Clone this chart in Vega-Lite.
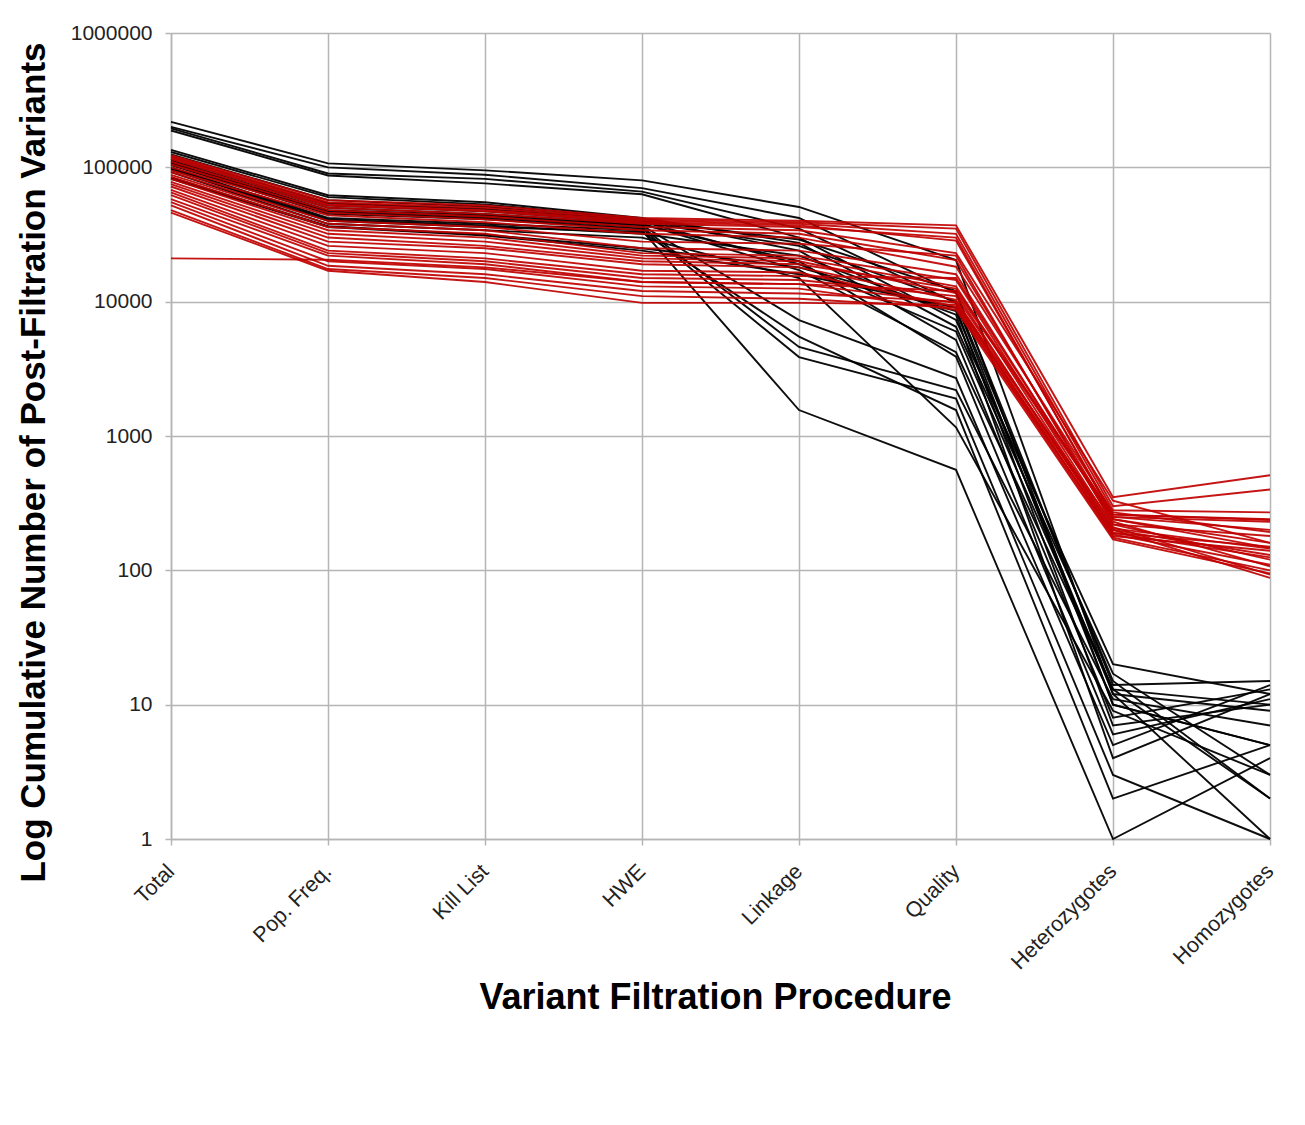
{
  "$schema": "https://vega.github.io/schema/vega-lite/v6.json",
  "width": 1099,
  "height": 806,
  "autosize": {"type": "none"},
  "padding": {"left": 171, "top": 33, "right": 35, "bottom": 286},
  "background": "white",
  "config": {
    "font": "Liberation Sans",
    "view": {"stroke": null},
    "axis": {
      "grid": true,
      "gridColor": "#b5b5b5",
      "gridWidth": 1.5,
      "domainColor": "#b5b5b5",
      "domainWidth": 1.5,
      "tickColor": "#b5b5b5",
      "tickWidth": 1.5,
      "tickSize": 6,
      "labelFont": "Liberation Sans",
      "labelFontSize": 21,
      "labelColor": "#222222",
      "labelFlush": false,
      "labelOverlap": false,
      "titleFont": "Liberation Sans",
      "titleFontWeight": "bold",
      "titleColor": "#000000"
    }
  },
  "data": {
    "values": [
      {"s":"B1","g":"b","x":"Total","v":218000},{"s":"B1","g":"b","x":"Pop. Freq.","v":107000},{"s":"B1","g":"b","x":"Kill List","v":95000},{"s":"B1","g":"b","x":"HWE","v":80000},{"s":"B1","g":"b","x":"Linkage","v":50700},{"s":"B1","g":"b","x":"Quality","v":20400},{"s":"B1","g":"b","x":"Heterozygotes","v":12},{"s":"B1","g":"b","x":"Homozygotes","v":9},
      {"s":"B2","g":"b","x":"Total","v":200000},{"s":"B2","g":"b","x":"Pop. Freq.","v":100000},{"s":"B2","g":"b","x":"Kill List","v":88000},{"s":"B2","g":"b","x":"HWE","v":70000},{"s":"B2","g":"b","x":"Linkage","v":42000},{"s":"B2","g":"b","x":"Quality","v":11600},{"s":"B2","g":"b","x":"Heterozygotes","v":14},{"s":"B2","g":"b","x":"Homozygotes","v":15},
      {"s":"B3","g":"b","x":"Total","v":195000},{"s":"B3","g":"b","x":"Pop. Freq.","v":90000},{"s":"B3","g":"b","x":"Kill List","v":82000},{"s":"B3","g":"b","x":"HWE","v":66000},{"s":"B3","g":"b","x":"Linkage","v":35000},{"s":"B3","g":"b","x":"Quality","v":9800},{"s":"B3","g":"b","x":"Heterozygotes","v":10},{"s":"B3","g":"b","x":"Homozygotes","v":5},
      {"s":"B4","g":"b","x":"Total","v":188000},{"s":"B4","g":"b","x":"Pop. Freq.","v":87000},{"s":"B4","g":"b","x":"Kill List","v":76000},{"s":"B4","g":"b","x":"HWE","v":63000},{"s":"B4","g":"b","x":"Linkage","v":30000},{"s":"B4","g":"b","x":"Quality","v":7300},{"s":"B4","g":"b","x":"Heterozygotes","v":20},{"s":"B4","g":"b","x":"Homozygotes","v":12},
      {"s":"B5","g":"b","x":"Total","v":135000},{"s":"B5","g":"b","x":"Pop. Freq.","v":62000},{"s":"B5","g":"b","x":"Kill List","v":55000},{"s":"B5","g":"b","x":"HWE","v":42000},{"s":"B5","g":"b","x":"Linkage","v":27400},{"s":"B5","g":"b","x":"Quality","v":6500},{"s":"B5","g":"b","x":"Heterozygotes","v":17},{"s":"B5","g":"b","x":"Homozygotes","v":3},
      {"s":"B6","g":"b","x":"Total","v":130000},{"s":"B6","g":"b","x":"Pop. Freq.","v":60000},{"s":"B6","g":"b","x":"Kill List","v":53000},{"s":"B6","g":"b","x":"HWE","v":41000},{"s":"B6","g":"b","x":"Linkage","v":24000},{"s":"B6","g":"b","x":"Quality","v":5200},{"s":"B6","g":"b","x":"Heterozygotes","v":8},{"s":"B6","g":"b","x":"Homozygotes","v":13},
      {"s":"B7","g":"b","x":"Total","v":112000},{"s":"B7","g":"b","x":"Pop. Freq.","v":50000},{"s":"B7","g":"b","x":"Kill List","v":45000},{"s":"B7","g":"b","x":"HWE","v":38000},{"s":"B7","g":"b","x":"Linkage","v":17200},{"s":"B7","g":"b","x":"Quality","v":4200},{"s":"B7","g":"b","x":"Heterozygotes","v":13},{"s":"B7","g":"b","x":"Homozygotes","v":2},
      {"s":"B8","g":"b","x":"Total","v":110000},{"s":"B8","g":"b","x":"Pop. Freq.","v":48000},{"s":"B8","g":"b","x":"Kill List","v":44000},{"s":"B8","g":"b","x":"HWE","v":37500},{"s":"B8","g":"b","x":"Linkage","v":20000},{"s":"B8","g":"b","x":"Quality","v":3900},{"s":"B8","g":"b","x":"Heterozygotes","v":6},{"s":"B8","g":"b","x":"Homozygotes","v":11},
      {"s":"B9","g":"b","x":"Total","v":108000},{"s":"B9","g":"b","x":"Pop. Freq.","v":47000},{"s":"B9","g":"b","x":"Kill List","v":43000},{"s":"B9","g":"b","x":"HWE","v":37000},{"s":"B9","g":"b","x":"Linkage","v":7300},{"s":"B9","g":"b","x":"Quality","v":2700},{"s":"B9","g":"b","x":"Heterozygotes","v":5},{"s":"B9","g":"b","x":"Homozygotes","v":14},
      {"s":"B10","g":"b","x":"Total","v":106000},{"s":"B10","g":"b","x":"Pop. Freq.","v":46000},{"s":"B10","g":"b","x":"Kill List","v":42000},{"s":"B10","g":"b","x":"HWE","v":36000},{"s":"B10","g":"b","x":"Linkage","v":4600},{"s":"B10","g":"b","x":"Quality","v":2200},{"s":"B10","g":"b","x":"Heterozygotes","v":11},{"s":"B10","g":"b","x":"Homozygotes","v":7},
      {"s":"B11","g":"b","x":"Total","v":104000},{"s":"B11","g":"b","x":"Pop. Freq.","v":45000},{"s":"B11","g":"b","x":"Kill List","v":41000},{"s":"B11","g":"b","x":"HWE","v":35000},{"s":"B11","g":"b","x":"Linkage","v":3870},{"s":"B11","g":"b","x":"Quality","v":1900},{"s":"B11","g":"b","x":"Heterozygotes","v":3},{"s":"B11","g":"b","x":"Homozygotes","v":1},
      {"s":"B12","g":"b","x":"Total","v":100000},{"s":"B12","g":"b","x":"Pop. Freq.","v":42000},{"s":"B12","g":"b","x":"Kill List","v":38000},{"s":"B12","g":"b","x":"HWE","v":34000},{"s":"B12","g":"b","x":"Linkage","v":1560},{"s":"B12","g":"b","x":"Quality","v":560},{"s":"B12","g":"b","x":"Heterozygotes","v":1},{"s":"B12","g":"b","x":"Homozygotes","v":4},
      {"s":"B13","g":"b","x":"Total","v":96000},{"s":"B13","g":"b","x":"Pop. Freq.","v":40000},{"s":"B13","g":"b","x":"Kill List","v":36000},{"s":"B13","g":"b","x":"HWE","v":33000},{"s":"B13","g":"b","x":"Linkage","v":5500},{"s":"B13","g":"b","x":"Quality","v":1560},{"s":"B13","g":"b","x":"Heterozygotes","v":2},{"s":"B13","g":"b","x":"Homozygotes","v":5},
      {"s":"B14","g":"b","x":"Total","v":92000},{"s":"B14","g":"b","x":"Pop. Freq.","v":38000},{"s":"B14","g":"b","x":"Kill List","v":34000},{"s":"B14","g":"b","x":"HWE","v":30000},{"s":"B14","g":"b","x":"Linkage","v":15000},{"s":"B14","g":"b","x":"Quality","v":1160},{"s":"B14","g":"b","x":"Heterozygotes","v":9},{"s":"B14","g":"b","x":"Homozygotes","v":3},
      {"s":"B15","g":"b","x":"Total","v":84000},{"s":"B15","g":"b","x":"Pop. Freq.","v":36500},{"s":"B15","g":"b","x":"Kill List","v":31500},{"s":"B15","g":"b","x":"HWE","v":25000},{"s":"B15","g":"b","x":"Linkage","v":18000},{"s":"B15","g":"b","x":"Quality","v":8500},{"s":"B15","g":"b","x":"Heterozygotes","v":12},{"s":"B15","g":"b","x":"Homozygotes","v":1},
      {"s":"B16","g":"b","x":"Total","v":82000},{"s":"B16","g":"b","x":"Pop. Freq.","v":36000},{"s":"B16","g":"b","x":"Kill List","v":31000},{"s":"B16","g":"b","x":"HWE","v":24000},{"s":"B16","g":"b","x":"Linkage","v":16000},{"s":"B16","g":"b","x":"Quality","v":9000},{"s":"B16","g":"b","x":"Heterozygotes","v":7},{"s":"B16","g":"b","x":"Homozygotes","v":10},
      {"s":"B17","g":"b","x":"Total","v":115000},{"s":"B17","g":"b","x":"Pop. Freq.","v":52000},{"s":"B17","g":"b","x":"Kill List","v":47000},{"s":"B17","g":"b","x":"HWE","v":39000},{"s":"B17","g":"b","x":"Linkage","v":26000},{"s":"B17","g":"b","x":"Quality","v":10000},{"s":"B17","g":"b","x":"Heterozygotes","v":15},{"s":"B17","g":"b","x":"Homozygotes","v":2},
      {"s":"B18","g":"b","x":"Total","v":98000},{"s":"B18","g":"b","x":"Pop. Freq.","v":41000},{"s":"B18","g":"b","x":"Kill List","v":37000},{"s":"B18","g":"b","x":"HWE","v":32000},{"s":"B18","g":"b","x":"Linkage","v":22000},{"s":"B18","g":"b","x":"Quality","v":8000},{"s":"B18","g":"b","x":"Heterozygotes","v":4},{"s":"B18","g":"b","x":"Homozygotes","v":12},
      {"s":"B19","g":"b","x":"Total","v":125000},{"s":"B19","g":"b","x":"Pop. Freq.","v":57000},{"s":"B19","g":"b","x":"Kill List","v":51000},{"s":"B19","g":"b","x":"HWE","v":40000},{"s":"B19","g":"b","x":"Linkage","v":29000},{"s":"B19","g":"b","x":"Quality","v":12000},{"s":"B19","g":"b","x":"Heterozygotes","v":10},{"s":"B19","g":"b","x":"Homozygotes","v":5},
      {"s":"B20","g":"b","x":"Total","v":120000},{"s":"B20","g":"b","x":"Pop. Freq.","v":54000},{"s":"B20","g":"b","x":"Kill List","v":49000},{"s":"B20","g":"b","x":"HWE","v":39500},{"s":"B20","g":"b","x":"Linkage","v":19000},{"s":"B20","g":"b","x":"Quality","v":6000},{"s":"B20","g":"b","x":"Heterozygotes","v":13},{"s":"B20","g":"b","x":"Homozygotes","v":10},
      {"s":"R1","g":"r","x":"Total","v":123000},{"s":"R1","g":"r","x":"Pop. Freq.","v":57000},{"s":"R1","g":"r","x":"Kill List","v":52000},{"s":"R1","g":"r","x":"HWE","v":42000},{"s":"R1","g":"r","x":"Linkage","v":40000},{"s":"R1","g":"r","x":"Quality","v":37000},{"s":"R1","g":"r","x":"Heterozygotes","v":350},{"s":"R1","g":"r","x":"Homozygotes","v":510},
      {"s":"R2","g":"r","x":"Total","v":120000},{"s":"R2","g":"r","x":"Pop. Freq.","v":55000},{"s":"R2","g":"r","x":"Kill List","v":50000},{"s":"R2","g":"r","x":"HWE","v":41000},{"s":"R2","g":"r","x":"Linkage","v":39000},{"s":"R2","g":"r","x":"Quality","v":35000},{"s":"R2","g":"r","x":"Heterozygotes","v":300},{"s":"R2","g":"r","x":"Homozygotes","v":400},
      {"s":"R3","g":"r","x":"Total","v":118000},{"s":"R3","g":"r","x":"Pop. Freq.","v":53000},{"s":"R3","g":"r","x":"Kill List","v":48000},{"s":"R3","g":"r","x":"HWE","v":40000},{"s":"R3","g":"r","x":"Linkage","v":38000},{"s":"R3","g":"r","x":"Quality","v":32000},{"s":"R3","g":"r","x":"Heterozygotes","v":280},{"s":"R3","g":"r","x":"Homozygotes","v":270},
      {"s":"R4","g":"r","x":"Total","v":115000},{"s":"R4","g":"r","x":"Pop. Freq.","v":52000},{"s":"R4","g":"r","x":"Kill List","v":47000},{"s":"R4","g":"r","x":"HWE","v":39000},{"s":"R4","g":"r","x":"Linkage","v":37000},{"s":"R4","g":"r","x":"Quality","v":28500},{"s":"R4","g":"r","x":"Heterozygotes","v":260},{"s":"R4","g":"r","x":"Homozygotes","v":240},
      {"s":"R5","g":"r","x":"Total","v":110000},{"s":"R5","g":"r","x":"Pop. Freq.","v":50000},{"s":"R5","g":"r","x":"Kill List","v":45000},{"s":"R5","g":"r","x":"HWE","v":38000},{"s":"R5","g":"r","x":"Linkage","v":36000},{"s":"R5","g":"r","x":"Quality","v":30000},{"s":"R5","g":"r","x":"Heterozygotes","v":250},{"s":"R5","g":"r","x":"Homozygotes","v":230},
      {"s":"R6","g":"r","x":"Total","v":105000},{"s":"R6","g":"r","x":"Pop. Freq.","v":48000},{"s":"R6","g":"r","x":"Kill List","v":43000},{"s":"R6","g":"r","x":"HWE","v":36000},{"s":"R6","g":"r","x":"Linkage","v":34000},{"s":"R6","g":"r","x":"Quality","v":23000},{"s":"R6","g":"r","x":"Heterozygotes","v":330},{"s":"R6","g":"r","x":"Homozygotes","v":160},
      {"s":"R7","g":"r","x":"Total","v":100000},{"s":"R7","g":"r","x":"Pop. Freq.","v":46000},{"s":"R7","g":"r","x":"Kill List","v":41000},{"s":"R7","g":"r","x":"HWE","v":34000},{"s":"R7","g":"r","x":"Linkage","v":32000},{"s":"R7","g":"r","x":"Quality","v":20400},{"s":"R7","g":"r","x":"Heterozygotes","v":240},{"s":"R7","g":"r","x":"Homozygotes","v":147},
      {"s":"R8","g":"r","x":"Total","v":95000},{"s":"R8","g":"r","x":"Pop. Freq.","v":44000},{"s":"R8","g":"r","x":"Kill List","v":39000},{"s":"R8","g":"r","x":"HWE","v":32000},{"s":"R8","g":"r","x":"Linkage","v":30000},{"s":"R8","g":"r","x":"Quality","v":18200},{"s":"R8","g":"r","x":"Heterozygotes","v":270},{"s":"R8","g":"r","x":"Homozygotes","v":193},
      {"s":"R9","g":"r","x":"Total","v":92000},{"s":"R9","g":"r","x":"Pop. Freq.","v":40000},{"s":"R9","g":"r","x":"Kill List","v":36000},{"s":"R9","g":"r","x":"HWE","v":28000},{"s":"R9","g":"r","x":"Linkage","v":27000},{"s":"R9","g":"r","x":"Quality","v":22000},{"s":"R9","g":"r","x":"Heterozygotes","v":220},{"s":"R9","g":"r","x":"Homozygotes","v":120},
      {"s":"R10","g":"r","x":"Total","v":88000},{"s":"R10","g":"r","x":"Pop. Freq.","v":38000},{"s":"R10","g":"r","x":"Kill List","v":34000},{"s":"R10","g":"r","x":"HWE","v":25000},{"s":"R10","g":"r","x":"Linkage","v":24000},{"s":"R10","g":"r","x":"Quality","v":16000},{"s":"R10","g":"r","x":"Heterozygotes","v":230},{"s":"R10","g":"r","x":"Homozygotes","v":107},
      {"s":"R11","g":"r","x":"Total","v":85000},{"s":"R11","g":"r","x":"Pop. Freq.","v":36000},{"s":"R11","g":"r","x":"Kill List","v":32000},{"s":"R11","g":"r","x":"HWE","v":23000},{"s":"R11","g":"r","x":"Linkage","v":22000},{"s":"R11","g":"r","x":"Quality","v":14500},{"s":"R11","g":"r","x":"Heterozygotes","v":210},{"s":"R11","g":"r","x":"Homozygotes","v":93},
      {"s":"R12","g":"r","x":"Total","v":82000},{"s":"R12","g":"r","x":"Pop. Freq.","v":34000},{"s":"R12","g":"r","x":"Kill List","v":30000},{"s":"R12","g":"r","x":"HWE","v":22000},{"s":"R12","g":"r","x":"Linkage","v":21000},{"s":"R12","g":"r","x":"Quality","v":13000},{"s":"R12","g":"r","x":"Heterozygotes","v":200},{"s":"R12","g":"r","x":"Homozygotes","v":88},
      {"s":"R13","g":"r","x":"Total","v":78000},{"s":"R13","g":"r","x":"Pop. Freq.","v":32000},{"s":"R13","g":"r","x":"Kill List","v":28000},{"s":"R13","g":"r","x":"HWE","v":21000},{"s":"R13","g":"r","x":"Linkage","v":20000},{"s":"R13","g":"r","x":"Quality","v":11600},{"s":"R13","g":"r","x":"Heterozygotes","v":190},{"s":"R13","g":"r","x":"Homozygotes","v":150},
      {"s":"R14","g":"r","x":"Total","v":75000},{"s":"R14","g":"r","x":"Pop. Freq.","v":30000},{"s":"R14","g":"r","x":"Kill List","v":26000},{"s":"R14","g":"r","x":"HWE","v":20000},{"s":"R14","g":"r","x":"Linkage","v":19000},{"s":"R14","g":"r","x":"Quality","v":12500},{"s":"R14","g":"r","x":"Heterozygotes","v":260},{"s":"R14","g":"r","x":"Homozygotes","v":237},
      {"s":"R15","g":"r","x":"Total","v":72000},{"s":"R15","g":"r","x":"Pop. Freq.","v":28000},{"s":"R15","g":"r","x":"Kill List","v":25000},{"s":"R15","g":"r","x":"HWE","v":19000},{"s":"R15","g":"r","x":"Linkage","v":18000},{"s":"R15","g":"r","x":"Quality","v":10300},{"s":"R15","g":"r","x":"Heterozygotes","v":180},{"s":"R15","g":"r","x":"Homozygotes","v":140},
      {"s":"R16","g":"r","x":"Total","v":68000},{"s":"R16","g":"r","x":"Pop. Freq.","v":26000},{"s":"R16","g":"r","x":"Kill List","v":23000},{"s":"R16","g":"r","x":"HWE","v":17000},{"s":"R16","g":"r","x":"Linkage","v":16500},{"s":"R16","g":"r","x":"Quality","v":9200},{"s":"R16","g":"r","x":"Heterozygotes","v":175},{"s":"R16","g":"r","x":"Homozygotes","v":100},
      {"s":"R17","g":"r","x":"Total","v":65000},{"s":"R17","g":"r","x":"Pop. Freq.","v":24000},{"s":"R17","g":"r","x":"Kill List","v":21000},{"s":"R17","g":"r","x":"HWE","v":16000},{"s":"R17","g":"r","x":"Linkage","v":15500},{"s":"R17","g":"r","x":"Quality","v":15000},{"s":"R17","g":"r","x":"Heterozygotes","v":240},{"s":"R17","g":"r","x":"Homozygotes","v":160},
      {"s":"R18","g":"r","x":"Total","v":62000},{"s":"R18","g":"r","x":"Pop. Freq.","v":23000},{"s":"R18","g":"r","x":"Kill List","v":20000},{"s":"R18","g":"r","x":"HWE","v":15000},{"s":"R18","g":"r","x":"Linkage","v":14500},{"s":"R18","g":"r","x":"Quality","v":11000},{"s":"R18","g":"r","x":"Heterozygotes","v":200},{"s":"R18","g":"r","x":"Homozygotes","v":130},
      {"s":"R19","g":"r","x":"Total","v":58000},{"s":"R19","g":"r","x":"Pop. Freq.","v":22000},{"s":"R19","g":"r","x":"Kill List","v":19000},{"s":"R19","g":"r","x":"HWE","v":14000},{"s":"R19","g":"r","x":"Linkage","v":13500},{"s":"R19","g":"r","x":"Quality","v":9800},{"s":"R19","g":"r","x":"Heterozygotes","v":185},{"s":"R19","g":"r","x":"Homozygotes","v":110},
      {"s":"R20","g":"r","x":"Total","v":55000},{"s":"R20","g":"r","x":"Pop. Freq.","v":20000},{"s":"R20","g":"r","x":"Kill List","v":17500},{"s":"R20","g":"r","x":"HWE","v":13000},{"s":"R20","g":"r","x":"Linkage","v":12500},{"s":"R20","g":"r","x":"Quality","v":8700},{"s":"R20","g":"r","x":"Heterozygotes","v":170},{"s":"R20","g":"r","x":"Homozygotes","v":95},
      {"s":"R21","g":"r","x":"Total","v":52000},{"s":"R21","g":"r","x":"Pop. Freq.","v":18500},{"s":"R21","g":"r","x":"Kill List","v":16000},{"s":"R21","g":"r","x":"HWE","v":12000},{"s":"R21","g":"r","x":"Linkage","v":11500},{"s":"R21","g":"r","x":"Quality","v":10000},{"s":"R21","g":"r","x":"Heterozygotes","v":220},{"s":"R21","g":"r","x":"Homozygotes","v":180},
      {"s":"R22","g":"r","x":"Total","v":48000},{"s":"R22","g":"r","x":"Pop. Freq.","v":17500},{"s":"R22","g":"r","x":"Kill List","v":15000},{"s":"R22","g":"r","x":"HWE","v":11000},{"s":"R22","g":"r","x":"Linkage","v":10500},{"s":"R22","g":"r","x":"Quality","v":9000},{"s":"R22","g":"r","x":"Heterozygotes","v":190},{"s":"R22","g":"r","x":"Homozygotes","v":125},
      {"s":"R23","g":"r","x":"Total","v":46000},{"s":"R23","g":"r","x":"Pop. Freq.","v":17000},{"s":"R23","g":"r","x":"Kill List","v":14000},{"s":"R23","g":"r","x":"HWE","v":9800},{"s":"R23","g":"r","x":"Linkage","v":9800},{"s":"R23","g":"r","x":"Quality","v":9500},{"s":"R23","g":"r","x":"Heterozygotes","v":205},{"s":"R23","g":"r","x":"Homozygotes","v":145},
      {"s":"R24","g":"r","x":"Total","v":21000},{"s":"R24","g":"r","x":"Pop. Freq.","v":20500},{"s":"R24","g":"r","x":"Kill List","v":18000},{"s":"R24","g":"r","x":"HWE","v":14000},{"s":"R24","g":"r","x":"Linkage","v":13500},{"s":"R24","g":"r","x":"Quality","v":12000},{"s":"R24","g":"r","x":"Heterozygotes","v":250},{"s":"R24","g":"r","x":"Homozygotes","v":200}
    ]
  },
  "encoding": {
    "x": {
      "field": "x",
      "type": "ordinal",
      "scale": {"type": "point", "padding": 0, "domain": ["Total","Pop. Freq.","Kill List","HWE","Linkage","Quality","Heterozygotes","Homozygotes"]},
      "axis": {
        "title": "Variant Filtration Procedure",
        "labelAngle": -45,
        "labelAlign": "right",
        "labelBaseline": "middle",
        "labelPadding": 23,
        "labelFontSize": 21.5,
        "titleFontSize": 36,
        "titleX": 544,
        "titleY": 169,
        "titleAlign": "center",
        "titleBaseline": "alphabetic"
      }
    },
    "y": {
      "field": "v",
      "type": "quantitative",
      "scale": {"type": "log", "domain": [1, 1000000], "nice": false},
      "axis": {
        "title": "Log Cumulative Number of Post-Filtration Variants",
        "values": [1, 10, 100, 1000, 10000, 100000, 1000000],
        "format": "d",
        "labelPadding": 13,
        "labelBaseline": "middle",
        "titleFontSize": 35,
        "titleAngle": -90,
        "titleX": -127,
        "titleY": 429,
        "titleAlign": "center",
        "titleBaseline": "alphabetic"
      }
    },
    "detail": {"field": "s"}
  },
  "layer": [
    {
      "transform": [{"filter": {"field": "g", "equal": "b"}}],
      "mark": {"type": "line", "color": "#000000", "strokeWidth": 1.9, "opacity": 0.95}
    },
    {
      "transform": [{"filter": {"field": "g", "equal": "r"}}],
      "mark": {"type": "line", "color": "#c00000", "strokeWidth": 1.9, "opacity": 0.92}
    }
  ]
}
